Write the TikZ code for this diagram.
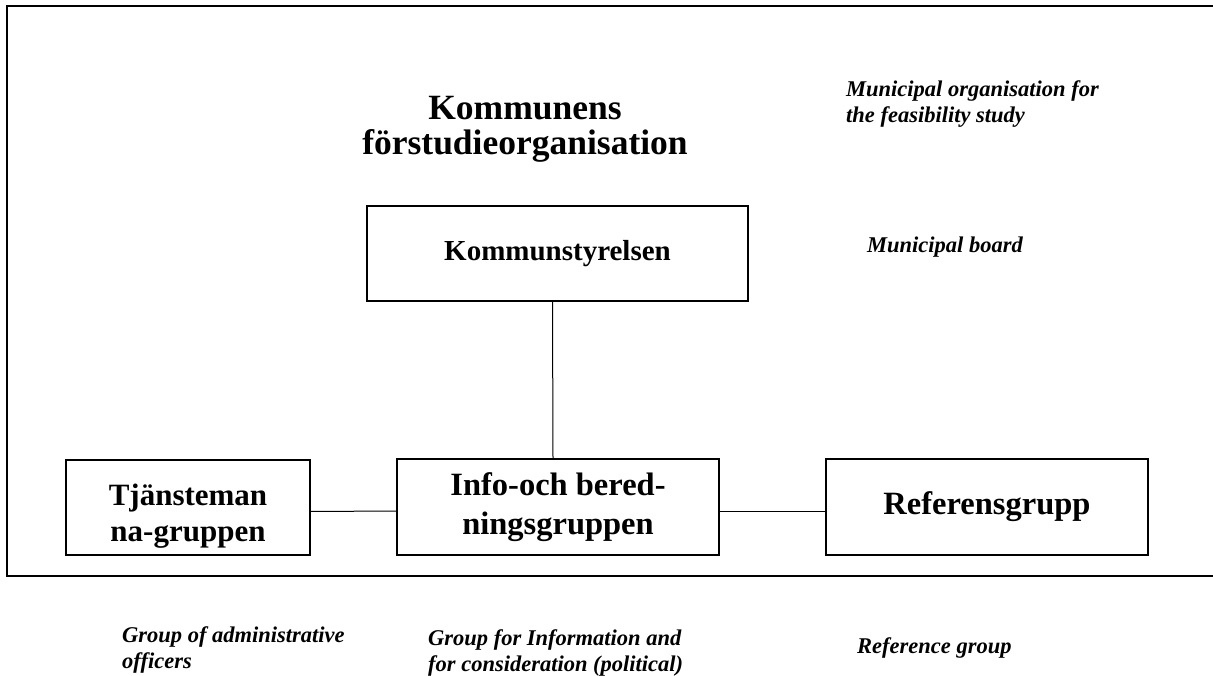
\documentclass[tikz,border=0pt]{standalone}
\usepackage{fontspec}
\setmainfont{Liberation Serif}

\tikzset{
  orgbox/.style={draw, line width=1.4pt, align=center, inner sep=0pt,
    font=\fontsize{32.5}{39}\selectfont\bfseries},
  boxtxt/.style={align=center, inner sep=0pt,
    font=\fontsize{31}{36}\selectfont\bfseries},
  headtxt/.style={align=center, inner sep=0pt,
    font=\fontsize{35.5}{35}\selectfont\bfseries},
  note/.style={anchor=west, align=left, inner sep=0pt,
    font=\fontsize{22.5}{26}\selectfont\bfseries\itshape},
}

\begin{document}
\begin{tikzpicture}[x=1pt,y=-1pt]
\useasboundingbox (0,0) rectangle (1213,676);
% outer frame, open to the right
\draw[line width=2pt] (1213,6) -- (7,6) -- (7,576) -- (1213,576);

\path (525,129) node[headtxt] (head) {Kommunens\\förstudieorganisation};
\path (846,104) node[note] (headen) {Municipal organisation for\\the feasibility study};

\path (557.5,253.5) node[orgbox, minimum width=381, minimum height=95,
  font=\fontsize{29}{35}\selectfont\bfseries] (ks) {Kommunstyrelsen};
\path (867,247) node[note] (ksen) {Municipal board};

\path (188,507.5) node[orgbox, minimum width=244, minimum height=95] (tj) {};
\path (tj.center) ++(0,9) node[boxtxt] (tjtxt) {Tjänsteman\\na-gruppen};
\path (558,507) node[orgbox, minimum width=322, minimum height=96] (info) {Info-och bered-\\ningsgruppen};
\path (987,507) node[orgbox, minimum width=322, minimum height=96] (ref) {Referensgrupp};

\draw[line width=1pt] ([xshift=-5pt]ks.south) -- ([xshift=-5pt]info.north);
\draw[line width=1pt] ([yshift=-4pt]tj.east) -- ([yshift=-4pt]info.west);
\draw[line width=1pt] ([yshift=-4pt]info.east) -- ([yshift=-4pt]ref.west);

\path (122,650) node[note] (tjen) {Group of administrative\\officers};
\path (428,653) node[note] (infoen) {Group for Information and\\for consideration (political)};
\path (857,648) node[note] (refen) {Reference group};
\end{tikzpicture}
\end{document}
